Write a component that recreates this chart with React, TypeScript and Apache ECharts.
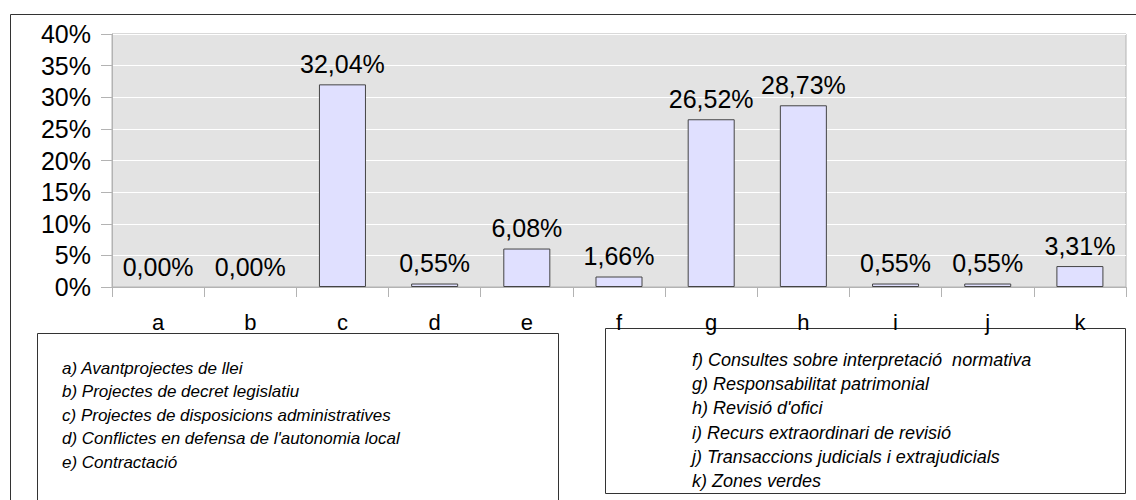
import React, { useEffect, useRef } from "react";
import * as echarts from "echarts";

const categories = ["a", "b", "c", "d", "e", "f", "g", "h", "i", "j", "k"];
const values = [0, 0, 32.04, 0.55, 6.08, 1.66, 26.52, 28.73, 0.55, 0.55, 3.31];
const yTicks = { min: 0, max: 40, interval: 5 };
const legendLeft = [
  "a) Avantprojectes de llei",
  "b) Projectes de decret legislatiu",
  "c) Projectes de disposicions administratives",
  "d) Conflictes en defensa de l'autonomia local",
  "e) Contractació",
];
const legendRight = [
  "f) Consultes sobre interpretació  normativa",
  "g) Responsabilitat patrimonial",
  "h) Revisió d'ofici",
  "i) Recurs extraordinari de revisió",
  "j) Transaccions judicials i extrajudicials",
  "k) Zones verdes",
];

const FONT = '"Liberation Sans", Arial, sans-serif';

export default function App() {
  const ref = useRef<HTMLDivElement>(null);
  useEffect(() => {
    if (!ref.current) return;
    const chart = echarts.init(ref.current, undefined, { renderer: "svg" });
    const legendText = (items: string[], x: number, y0: number, step: number, size: number) =>
      items.map((t, i) => ({
        type: "text",
        x,
        y: y0 + i * step,
        style: {
          text: t,
          fill: "#000",
          fontSize: size,
          fontStyle: "italic",
          fontFamily: FONT,
          verticalAlign: "middle",
          align: "left",
        },
      }));
    chart.setOption({
      animation: false,
      backgroundColor: "#fff",
      grid: {
        left: 112,
        top: 34,
        right: 10,
        bottom: 213,
        show: true,
        backgroundColor: "#e3e3e3",
        borderColor: "#b3b3b3",
        borderWidth: 1,
      },
      xAxis: {
        type: "category",
        data: categories,
        boundaryGap: true,
        axisLine: { lineStyle: { color: "#b3b3b3" } },
        axisTick: { show: true, length: 10, lineStyle: { color: "#b3b3b3" } },
        axisLabel: { color: "#000", fontSize: 22, fontFamily: FONT, margin: 24 },
      },
      yAxis: {
        type: "value",
        min: yTicks.min,
        max: yTicks.max,
        interval: yTicks.interval,
        axisLine: { show: true, lineStyle: { color: "#b3b3b3" } },
        axisTick: { show: true, length: 11, lineStyle: { color: "#b3b3b3" } },
        splitLine: { lineStyle: { color: "#ffffff", width: 1 } },
        axisLabel: {
          color: "#000",
          fontSize: 25,
          fontFamily: FONT,
          margin: 21,
          formatter: (v: number) => `${v}%`,
        },
      },
      series: [
        {
          type: "bar",
          data: values.map((v) =>
            v === 0 ? { value: v, itemStyle: { borderWidth: 0 } } : v
          ),
          barWidth: "51%",
          itemStyle: { color: "#e0e0ff", borderColor: "#444", borderWidth: 1 },
          label: {
            show: true,
            position: "top",
            distance: 8,
            color: "#000",
            fontSize: 25,
            fontFamily: FONT,
            formatter: (p: any) => `${Number(p.value).toFixed(2).replace(".", ",")}%`,
          },
        },
      ],
      graphic: [
        {
          type: "rect",
          shape: { x: 10.5, y: 14.5, width: 1200, height: 600 },
          style: { fill: "none", stroke: "#333", lineWidth: 1 },
          silent: true,
          z: -10,
        },
        {
          type: "rect",
          shape: { x: 37.5, y: 333.5, width: 521, height: 220 },
          style: { fill: "#fff", stroke: "#333", lineWidth: 1 },
        },
        {
          type: "rect",
          shape: { x: 605.5, y: 328.5, width: 520, height: 165 },
          style: { fill: "#fff", stroke: "#333", lineWidth: 1 },
        },
        ...legendText(legendLeft, 62, 368, 23.5, 17),
        ...legendText(legendRight, 692, 360, 24.2, 18),
      ],
    });
    return () => chart.dispose();
  }, []);
  return (
    <div
      ref={ref}
      style={{ position: "absolute", left: 0, top: 0, width: 1136, height: 500 }}
    />
  );
}
